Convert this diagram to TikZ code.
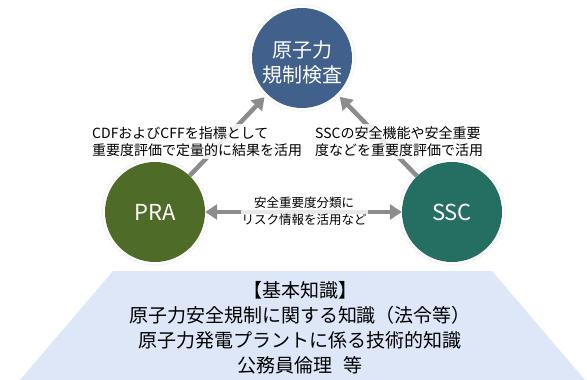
\documentclass[tikz,border=0pt]{standalone}
\usepackage{fontspec}
\setmainfont{Noto Sans CJK JP}
\usetikzlibrary{arrows.meta}
\definecolor{topblue}{RGB}{65,96,139}
\definecolor{pragreen}{RGB}{79,107,40}
\definecolor{sscteal}{RGB}{36,110,98}
\definecolor{arrgray}{RGB}{140,140,140}
\definecolor{baseblue}{RGB}{221,231,248}
\tikzset{
  bubble/.style={circle, minimum size=100pt, inner sep=0pt, text=white, align=center},
  halo/.style={circle, draw=gray!7, line width=1.5pt, minimum size=106pt, inner sep=0pt},
  arr/.style={draw=arrgray, line width=4.5pt, -{Triangle[length=12pt,width=15pt]}, shorten >=4pt},
  arrboth/.style={draw=arrgray, line width=4.5pt, {Triangle[length=12pt,width=15pt]}-{Triangle[length=12pt,width=15pt]}},
  lbl/.style={fill=white, fill opacity=0.85, text opacity=1, inner sep=2pt, font=\fontsize{14}{17.5}\selectfont},
  midlbl/.style={fill=white, fill opacity=0.8, text opacity=1, inner sep=1pt, align=center, font=\fontsize{12.5}{17}\selectfont},
}
\begin{document}
\begin{tikzpicture}[x=1pt,y=-1pt]
\useasboundingbox (0,0) rectangle (587,380);
% base trapezoid
\fill[baseblue] (113,271) -- (492,271) -- (585,380) -- (20,380) -- cycle;
\node[align=center, font=\fontsize{19}{25}\selectfont] (base) at (300,327.5)
  {【基本知識】\\原子力安全規制に関する知識（法令等）\\原子力発電プラントに係る技術的知識\\公務員倫理\hspace{12pt}等};
% halos
\node[halo] (toph) at (302,58) {};
\node[halo] (prah) at (155,212) {};
\node[halo] (ssch) at (452,212) {};
% circles
\node[bubble, fill=topblue] (top) at (302,58) {};
\node[text=white, align=center, font=\fontsize{20}{25}\selectfont] (topt) at (302,62) {原子力\\規制検査};
\node[bubble, fill=pragreen, font=\fontsize{22}{26}\selectfont] (pra) at (155,212) {PRA};
\node[bubble, fill=sscteal, font=\fontsize{22}{26}\selectfont] (ssc) at (452,212) {SSC};
% arrows
\draw[arr] (pra) -- (top);
\draw[arr] (ssc) -- (top);
\draw[arrboth] (pra) -- (ssc);
% labels
\node[lbl, align=left, anchor=west] (l1) at (90,141.5) {CDFおよびCFFを指標として\\重要度評価で定量的に結果を活用};
\node[lbl, align=left, anchor=west] (l2) at (313,141.5) {SSCの安全機能や安全重要\\度などを重要度評価で活用};
\node[midlbl] (l3) at (304,211.5) {安全重要度分類に\\リスク情報を活用など};
\end{tikzpicture}
\end{document}
